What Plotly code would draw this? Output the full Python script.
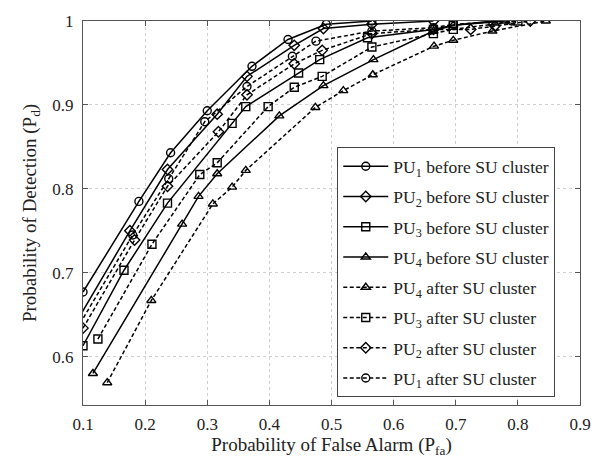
import plotly.graph_objects as go

# Probability of false alarm (x) and detection (y) for each primary user
pu1_before_pfa = [0.100, 0.190, 0.241, 0.300, 0.372, 0.430, 0.4915, 0.565]
pu1_before_pd = [0.677, 0.785, 0.843, 0.893, 0.946, 0.978, 0.996, 1.000]

pu2_before_pfa = [0.090, 0.1755, 0.236, 0.316, 0.364, 0.440, 0.487, 0.565, 0.664]
pu2_before_pd = [0.642, 0.750, 0.823, 0.889, 0.934, 0.971, 0.991, 0.996, 1.000]

pu3_before_pfa = [0.100, 0.166, 0.236, 0.340, 0.362, 0.447, 0.481, 0.558, 0.664, 0.696, 0.760]
pu3_before_pd = [0.613, 0.703, 0.783, 0.878, 0.898, 0.938, 0.954, 0.980, 0.990, 0.995, 1.000]

pu4_before_pfa = [0.116, 0.2595, 0.286, 0.316, 0.416, 0.487, 0.5675, 0.664, 0.696, 0.780]
pu4_before_pd = [0.580, 0.758, 0.791, 0.818, 0.887, 0.923, 0.954, 0.988, 0.995, 1.000]

pu4_after_pfa = [0.139, 0.210, 0.309, 0.340, 0.362, 0.474, 0.519, 0.5665, 0.665, 0.696, 0.759, 0.845]
pu4_after_pd = [0.569, 0.667, 0.782, 0.802, 0.822, 0.897, 0.917, 0.936, 0.970, 0.977, 0.988, 1.000]

pu3_after_pfa = [0.124, 0.211, 0.288, 0.316, 0.398, 0.440, 0.485, 0.565, 0.664, 0.696, 0.800]
pu3_after_pd = [0.621, 0.734, 0.817, 0.831, 0.898, 0.921, 0.934, 0.969, 0.985, 0.990, 1.000]

pu2_after_pfa = [0.100, 0.183, 0.236, 0.318, 0.364, 0.440, 0.485, 0.565, 0.664, 0.724, 0.763, 0.820]
pu2_after_pd = [0.634, 0.739, 0.803, 0.868, 0.912, 0.949, 0.965, 0.985, 0.990, 0.990, 0.994, 1.000]

pu1_after_pfa = [0.090, 0.180, 0.238, 0.296, 0.364, 0.437, 0.475, 0.565, 0.664, 0.696, 0.790]
pu1_after_pd = [0.633, 0.745, 0.812, 0.880, 0.922, 0.958, 0.976, 0.988, 0.992, 0.996, 1.000]

x_ticks = [0.1, 0.2, 0.3, 0.4, 0.5, 0.6, 0.7, 0.8, 0.9]
y_ticks = [0.6, 0.7, 0.8, 0.9, 1.0]
y_tick_text = ["0.6", "0.7", "0.8", "0.9", "1"]

FONT = "Liberation Serif, Times New Roman, serif"
DASH = "4px,2.5px"

series = [
    ("PU<sub>1</sub> before SU cluster", pu1_before_pfa, pu1_before_pd, "circle-open", "solid"),
    ("PU<sub>2</sub> before SU cluster", pu2_before_pfa, pu2_before_pd, "diamond-open", "solid"),
    ("PU<sub>3</sub> before SU cluster", pu3_before_pfa, pu3_before_pd, "square-open", "solid"),
    ("PU<sub>4</sub> before SU cluster", pu4_before_pfa, pu4_before_pd, "triangle-up-open", "solid"),
    ("PU<sub>4</sub> after SU cluster", pu4_after_pfa, pu4_after_pd, "triangle-up-open", DASH),
    ("PU<sub>3</sub> after SU cluster", pu3_after_pfa, pu3_after_pd, "square-open", DASH),
    ("PU<sub>2</sub> after SU cluster", pu2_after_pfa, pu2_after_pd, "diamond-open", DASH),
    ("PU<sub>1</sub> after SU cluster", pu1_after_pfa, pu1_after_pd, "circle-open", DASH),
]

fig = go.Figure()
for i, (name, xs, ys, sym, dash) in enumerate(series):
    fig.add_trace(go.Scatter(
        x=xs, y=ys, name=name, mode="lines+markers",
        legendgroup=f"g{i}",
        line=dict(color="black", width=1.5, dash=dash),
        marker=dict(symbol=sym, size=8, color="black", line=dict(width=1.4, color="black")),
        cliponaxis=True,
    ))

axis_common = dict(
    showgrid=True, gridcolor="#d0d0d0", griddash="dot", gridwidth=1,
    showline=True, linecolor="#555555", linewidth=1, mirror="ticks",
    ticks="inside", ticklen=5, tickcolor="#555555",
    tickfont=dict(family=FONT, size=17, color="#222222"),
    zeroline=False,
)

fig.update_layout(
    width=611, height=462,
    margin=dict(l=82.5, r=31, t=16, b=57),
    paper_bgcolor="white", plot_bgcolor="white",
    font=dict(family=FONT, color="#222222"),
    xaxis=dict(range=[0.1, 0.9], tickvals=x_ticks, ticklabelstandoff=4,
               title=dict(text="Probability of False Alarm (P<sub>fa</sub>)",
                          font=dict(family=FONT, size=19), standoff=0),
               **axis_common),
    yaxis=dict(range=[0.5424, 1.0], tickvals=y_ticks, ticktext=y_tick_text,
               ticklabelstandoff=5,
               title=dict(text="Probability of Detection (P<sub>d</sub>)",
                          font=dict(family=FONT, size=19), standoff=10),
               **axis_common),
    legend=dict(x=0.5116, y=0.671, xanchor="left", yanchor="top",
                bgcolor="white", bordercolor="#444444", borderwidth=1,
                font=dict(family=FONT, size=17.5, color="#222222"),
                tracegroupgap=4.5, itemwidth=45),
    showlegend=True,
)

fig.write_html("out.html")
